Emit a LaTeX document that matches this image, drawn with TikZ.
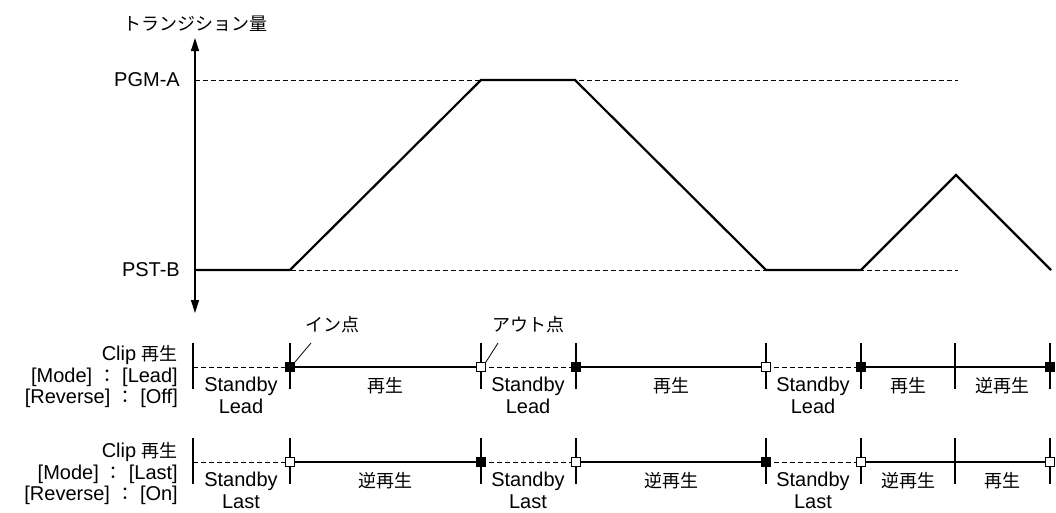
\documentclass[tikz,border=0pt]{standalone}
\usepackage{fontspec}
\setmainfont{Liberation Sans}
\newfontfamily\jp{Noto Sans CJK JP}[Scale=0.9]
\newcommand{\jcolon}{{\jp\kern6pt：\kern6pt}}
\usetikzlibrary{arrows.meta}
\begin{document}
\begin{tikzpicture}[x=1pt,y=-1pt,
  txt/.style={font=\fontsize{20}{21.5}\selectfont, inner sep=0pt, align=center},
  rtxt/.style={txt, align=right, anchor=east},
  axisline/.style={line width=1.3pt, {Triangle[width=8pt,length=13pt]}-{Triangle[width=8pt,length=13pt]}},
  guide/.style={dashed, dash pattern=on 5pt off 3pt, line width=0.8pt},
  curve/.style={line width=2.2pt, line join=miter},
  solidseg/.style={line width=1.2pt},
  dashseg/.style={dashed, dash pattern=on 5pt off 3pt, line width=0.8pt},
  tick/.style={line width=1.2pt},
  fsq/.style={draw, fill=black, minimum size=9pt, inner sep=0pt, line width=0.8pt},
  osq/.style={draw, fill=white, minimum size=9pt, inner sep=0pt, line width=0.8pt},
  leader/.style={line width=0.8pt}]
\useasboundingbox (0,0) rectangle (1056,512);

% axis
\coordinate (axb) at (195,313);
\coordinate (axt) at (195,38);
\draw[axisline] (axb) -- (axt);
\node[txt] (ylabel) at (195,24) {\jp トランジション量};
\node[rtxt] (pgm) at (180,80) {PGM-A};
\node[rtxt] (pst) at (180,270) {PST-B};

% guide levels
\coordinate (ga0) at (195,80); \coordinate (ga1) at (958,80);
\coordinate (gb0) at (195,270); \coordinate (gb1) at (958,270);
\draw[guide] (ga0) -- (ga1);
\draw[guide] (gb0) -- (gb1);

% curve
\coordinate (c0) at (195,270);
\coordinate (c1) at (290,270);
\coordinate (c2) at (481,80);
\coordinate (c3) at (575,80);
\coordinate (c4) at (766,270);
\coordinate (c5) at (861,270);
\coordinate (c6) at (956,175);
\coordinate (c7) at (1051,270);
\draw[curve] (c0) -- (c1) -- (c2) -- (c3) -- (c4) -- (c5) -- (c6) -- (c7);

% timeline rows
\foreach \r/\y in {1/367, 2/462}{
  \foreach \i/\x in {0/193,1/290,2/481,3/576,4/766,5/861,6/955,7/1050}{
    \coordinate (t\r-\i) at (\x,\y);
    \draw[tick] (\x,\y-24) -- (\x,\y+22);
  }
  \draw[dashseg] (t\r-0) -- (t\r-1);
  \draw[solidseg] (t\r-1) -- (t\r-2);
  \draw[dashseg] (t\r-2) -- (t\r-3);
  \draw[solidseg] (t\r-3) -- (t\r-4);
  \draw[dashseg] (t\r-4) -- (t\r-5);
  \draw[solidseg] (t\r-5) -- (t\r-7);
}
% row 1 markers
\node[fsq] (m11) at (t1-1) {};
\node[osq] (m12) at (t1-2) {};
\node[fsq] (m13) at (t1-3) {};
\node[osq] (m14) at (t1-4) {};
\node[fsq] (m15) at (t1-5) {};
\node[fsq] (m17) at (t1-7) {};
% row 2 markers
\node[osq] (m21) at (t2-1) {};
\node[fsq] (m22) at (t2-2) {};
\node[osq] (m23) at (t2-3) {};
\node[fsq] (m24) at (t2-4) {};
\node[osq] (m25) at (t2-5) {};
\node[osq] (m27) at (t2-7) {};

% callouts
\node[txt] (inpt) at (332,325) {\jp イン点};
\node[txt] (outpt) at (528,325) {\jp アウト点};
\coordinate (l1) at (311,343);
\coordinate (l2) at (498,343);
\draw[leader] (l1) -- (m11.north east);
\draw[leader] (l2) -- (m12.north east);

% row labels
\node[rtxt] (row1) at (178,377) {Clip {\jp 再生}\\{}[Mode]\jcolon[Lead]\\{}[Reverse]\jcolon[Off]};
\node[rtxt] (row2) at (178,474) {Clip {\jp 再生}\\{}[Mode]\jcolon[Last]\\{}[Reverse]\jcolon[On]};

% row 1 segment labels
\node[txt,anchor=north] (s11) at (241,377) {Standby\\Lead};
\node[txt] (s12) at (385,386) {\jp 再生};
\node[txt,anchor=north] (s13) at (528,377) {Standby\\Lead};
\node[txt] (s14) at (671,386) {\jp 再生};
\node[txt,anchor=north] (s15) at (813,377) {Standby\\Lead};
\node[txt] (s16) at (908,386) {\jp 再生};
\node[txt] (s17) at (1002,386) {\jp 逆再生};
% row 2 segment labels
\node[txt,anchor=north] (s21) at (241,472) {Standby\\Last};
\node[txt] (s22) at (385,481) {\jp 逆再生};
\node[txt,anchor=north] (s23) at (528,472) {Standby\\Last};
\node[txt] (s24) at (671,481) {\jp 逆再生};
\node[txt,anchor=north] (s25) at (813,472) {Standby\\Last};
\node[txt] (s26) at (908,481) {\jp 逆再生};
\node[txt] (s27) at (1002,481) {\jp 再生};
\end{tikzpicture}
\end{document}
